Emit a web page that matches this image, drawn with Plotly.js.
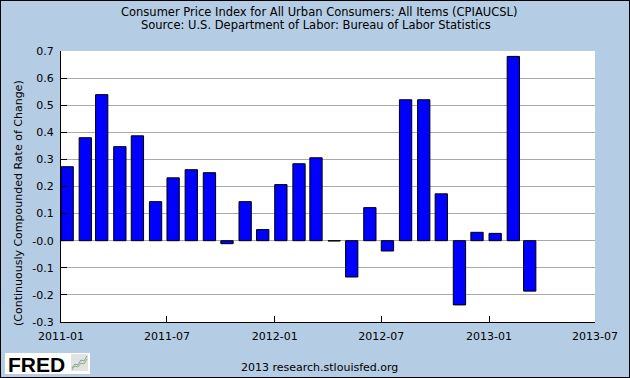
<!DOCTYPE html>
<html>
<head>
<meta charset="utf-8">
<script src="https://cdn.plot.ly/plotly-3.0.1.min.js"></script>
<style>
html,body{margin:0;padding:0;background:#b4cce4;}
#wrap{position:relative;width:630px;height:378px;}
#chart{width:630px;height:378px;}
#frame{position:absolute;left:0;top:0;width:628px;height:376px;border:1px solid #000;pointer-events:none;}
</style>
</head>
<body>
<div id="wrap"><div id="chart"></div><div id="frame"></div></div>
<script>
const months = ["2011-01-01","2011-02-01","2011-03-01","2011-04-01","2011-05-01","2011-06-01",
  "2011-07-01","2011-08-01","2011-09-01","2011-10-01","2011-11-01","2011-12-01",
  "2012-01-01","2012-02-01","2012-03-01","2012-04-01","2012-05-01","2012-06-01",
  "2012-07-01","2012-08-01","2012-09-01","2012-10-01","2012-11-01","2012-12-01",
  "2013-01-01","2013-02-01","2013-03-01"];
const cpiChange = [0.273,0.380,0.539,0.347,0.387,0.144,
  0.232,0.262,0.251,-0.011,0.144,0.041,
  0.207,0.284,0.306,-0.001,-0.134,0.122,
  -0.038,0.520,0.520,0.173,-0.237,0.031,
  0.027,0.680,-0.186];
const yTickVals = [0.7,0.6,0.5,0.4,0.3,0.2,0.1,0,-0.1,-0.2,-0.3];
const yTickText = ["0.7","0.6","0.5","0.4","0.3","0.2","0.1","-0.0","-0.1","-0.2","-0.3"];
const titleLines = ["Consumer Price Index for All Urban Consumers: All Items (CPIAUCSL)",
  "Source: U.S. Department of Labor: Bureau of Labor Statistics"];

const DAY = 86400000;
const fnt = "DejaVu Sans";
const W = 534.5, H = 271, L = 61, B = 322;
const px = p => (p - L) / W;
const py = p => (B - p) / H;

const trace = {
  type: "bar",
  x: months,
  y: cpiChange,
  offset: 0,
  width: months.map(() => 21*DAY),
  marker: {color: "#0000ff", line: {color: "#000000", width: 1}},
  hoverinfo: "x+y"
};

const layout = {
  width: 630, height: 378,
  paper_bgcolor: "#b4cce4",
  plot_bgcolor: "#ffffff",
  margin: {l: 61, r: 34.5, t: 51, b: 56},
  font: {family: fnt, size: 11, color: "#000"},
  showlegend: false,
  bargap: 0,
  xaxis: {
    type: "date",
    range: ["2011-01-01","2013-07-01"],
    tickmode: "linear",
    tick0: "2011-01-01",
    dtick: "M6",
    tickformat: "%Y-%m",
    ticks: "inside", ticklen: 6, tickcolor: "#000", tickwidth: 1,
    showline: true, linecolor: "#000", linewidth: 1,
    showgrid: false, zeroline: false,
    ticklabelstandoff: 4,
    tickfont: {family: fnt, size: 11, color: "#000"},
    fixedrange: true
  },
  yaxis: {
    range: [-0.3, 0.7],
    tickmode: "array",
    tickvals: yTickVals,
    ticktext: yTickText,
    ticks: "inside", ticklen: 6, tickcolor: "#000", tickwidth: 1,
    showline: true, linecolor: "#000", linewidth: 1,
    showgrid: true, gridcolor: "#aaaaaa", gridwidth: 1,
    zeroline: false,
    ticklabelstandoff: 4,
    tickfont: {family: fnt, size: 11, color: "#000"},
    fixedrange: true
  },
  shapes: [
    {type: "rect", xref: "paper", yref: "paper",
     x0: px(5), x1: px(90), y0: py(374), y1: py(353),
     fillcolor: "#ffffff", line: {width: 0}, layer: "above"},
    {type: "rect", xref: "paper", yref: "paper",
     x0: px(71), x1: px(88), y0: py(371), y1: py(354),
     fillcolor: "#e2e2e2", line: {width: 0}, layer: "above"},
    {type: "path", xref: "paper", yref: "paper",
     path: `M${px(72)},${py(368)} L${px(75)},${py(364)} L${px(78)},${py(365)} L${px(81)},${py(360)} L${px(84)},${py(361)} L${px(87)},${py(356)}`,
     line: {color: "#7aa0c8", width: 1}, layer: "above"},
    {type: "path", xref: "paper", yref: "paper",
     path: `M${px(72)},${py(370)} L${px(75)},${py(366)} L${px(78)},${py(367)} L${px(81)},${py(363)} L${px(84)},${py(364)} L${px(87)},${py(359)}`,
     line: {color: "#8cb84c", width: 1}, layer: "above"}
  ],
  annotations: [
    {text: titleLines[0], xref: "paper", yref: "paper", x: px(319), y: py(11.5),
     xanchor: "center", yanchor: "middle", showarrow: false,
     font: {family: fnt, size: 11.5, color: "#000"}},
    {text: titleLines[1], xref: "paper", yref: "paper", x: px(316), y: py(25),
     xanchor: "center", yanchor: "middle", showarrow: false,
     font: {family: fnt, size: 11.5, color: "#000"}},
    {text: "(Continuously Compounded Rate of Change)", textangle: -90,
     xref: "paper", yref: "paper", x: px(18), y: py(203),
     xanchor: "center", yanchor: "middle", showarrow: false,
     font: {family: fnt, size: 11, color: "#000"}},
    {text: "2013 research.stlouisfed.org",
     xref: "paper", yref: "paper", x: px(320), y: py(367),
     xanchor: "center", yanchor: "middle", showarrow: false,
     font: {family: fnt, size: 11, color: "#000"}},
    {text: "<b>FRED</b>",
     xref: "paper", yref: "paper", x: px(6), y: py(364),
     xanchor: "left", yanchor: "middle", showarrow: false,
     font: {family: "Liberation Sans", size: 21, color: "#000"}}
  ]
};

Plotly.newPlot("chart", [trace], layout, {displayModeBar: false, staticPlot: true});
</script>
</body>
</html>
